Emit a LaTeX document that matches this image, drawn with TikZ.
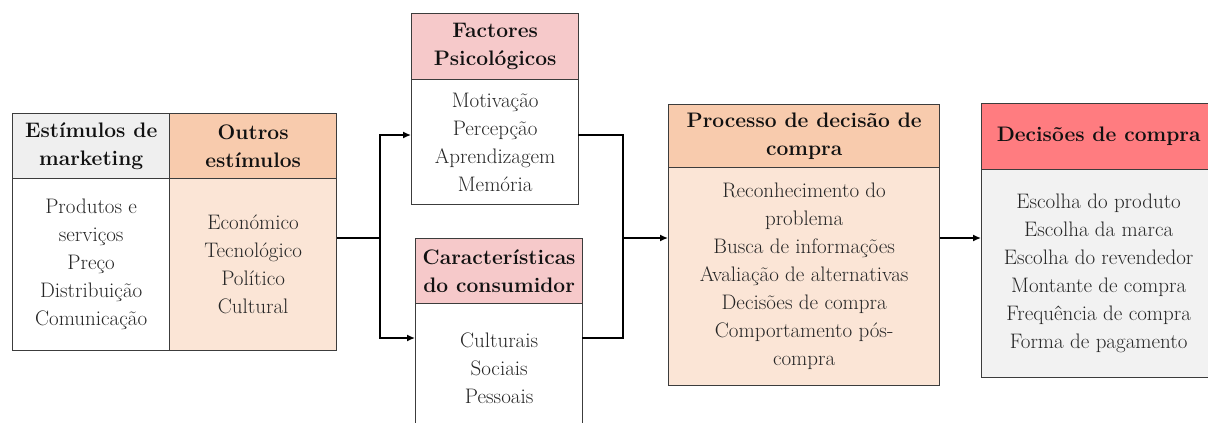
\documentclass[tikz,border=0pt]{standalone}
\usepackage{fontspec}
\usetikzlibrary{arrows.meta}
\definecolor{greyhdr}{HTML}{EFEFEF}
\definecolor{greybody}{HTML}{F2F2F2}
\definecolor{peachhdr}{HTML}{F8CBAD}
\definecolor{peachbody}{HTML}{FBE5D6}
\definecolor{pinkhdr}{HTML}{F6C9CA}
\definecolor{redhdr}{HTML}{FF7C80}
\definecolor{bordercol}{HTML}{3C3C3C}
\definecolor{bodytext}{HTML}{262626}
\definecolor{hdrtext}{HTML}{111111}
\begin{document}
\begin{tikzpicture}[x=1pt,y=-1pt,
  cell/.style={draw=bordercol, line width=1.3pt, anchor=north west, inner sep=0pt,
    align=center, font=\fontsize{21}{28}\selectfont},
  hdr/.style={cell, text=hdrtext, font=\fontsize{21}{28}\selectfont\bfseries},
  bodycell/.style={cell, text=bodytext},
  conn/.style={draw=black, line width=1.4pt},
  arr/.style={conn, -{Latex[length=8pt,width=7pt]}}]
\useasboundingbox (0,0) rectangle (1208,423);
\clip (0,0) rectangle (1208,423);

% Left block
\node[hdr, fill=greyhdr, minimum width=157pt, minimum height=65pt] (eh) at (12,113) {Estímulos de\\marketing};
\node[bodycell, fill=white, minimum width=157pt, minimum height=172pt] (eb) at (12,178) {Produtos e\\serviços\\Preço\\Distribuição\\Comunicação};
\node[hdr, fill=peachhdr, minimum width=167pt, minimum height=65pt] (oh) at (169,113) {Outros\\estímulos};
\node[bodycell, fill=peachbody, minimum width=167pt, minimum height=172pt] (ob) at (169,178) {Económico\\Tecnológico\\Político\\Cultural};

% Factores psicologicos
\node[hdr, fill=pinkhdr, minimum width=167pt, minimum height=66pt] (fh) at (411,13) {Factores\\Psicológicos};
\node[bodycell, fill=white, minimum width=167pt, minimum height=125pt] (fb) at (411,79) {Motivação\\Percepção\\Aprendizagem\\Memória};

% Caracteristicas do consumidor
\node[hdr, fill=pinkhdr, minimum width=167pt, minimum height=65pt] (ch) at (415,238) {Características\\do consumidor};
\node[bodycell, fill=white, minimum width=167pt, minimum height=130pt] (cb) at (415,303) {Culturais\\Sociais\\Pessoais};

% Processo de decisao
\node[hdr, fill=peachhdr, minimum width=271pt, minimum height=63pt] (ph) at (668,104) {Processo de decisão de\\compra};
\node[bodycell, fill=peachbody, minimum width=271pt, minimum height=218pt] (pb) at (668,167) {Reconhecimento do\\problema\\Busca de informações\\Avaliação de alternativas\\Decisões de compra\\Comportamento pós-\\compra};

% Decisoes de compra
\node[hdr, fill=redhdr, minimum width=234pt, minimum height=66pt] (dh) at (981,103) {Decisões de compra};
\node[bodycell, fill=greybody, minimum width=234pt, minimum height=208pt] (db) at (981,169) {Escolha do produto\\Escolha da marca\\Escolha do revendedor\\Montante de compra\\Frequência de compra\\Forma de pagamento};

% Junction coordinates
\coordinate (j1) at (380,238);
\coordinate (fin) at (411,135);
\coordinate (cin) at (415,338);
\coordinate (fout) at (578,135);
\coordinate (cout) at (582,338);
\coordinate (j2) at (623,238);

% Connectors
\draw[conn] (j1 -| ob.east) -- (j1);
\draw[arr] (j1) |- (fin);
\draw[arr] (j1) |- (cin);
\draw[conn] (fout) -| (j2);
\draw[conn] (cout) -| (j2);
\draw[arr] (j2) -- (j2 -| pb.west);
\draw[arr] (pb.east |- j2) -- (db.west |- j2);
\end{tikzpicture}
\end{document}
